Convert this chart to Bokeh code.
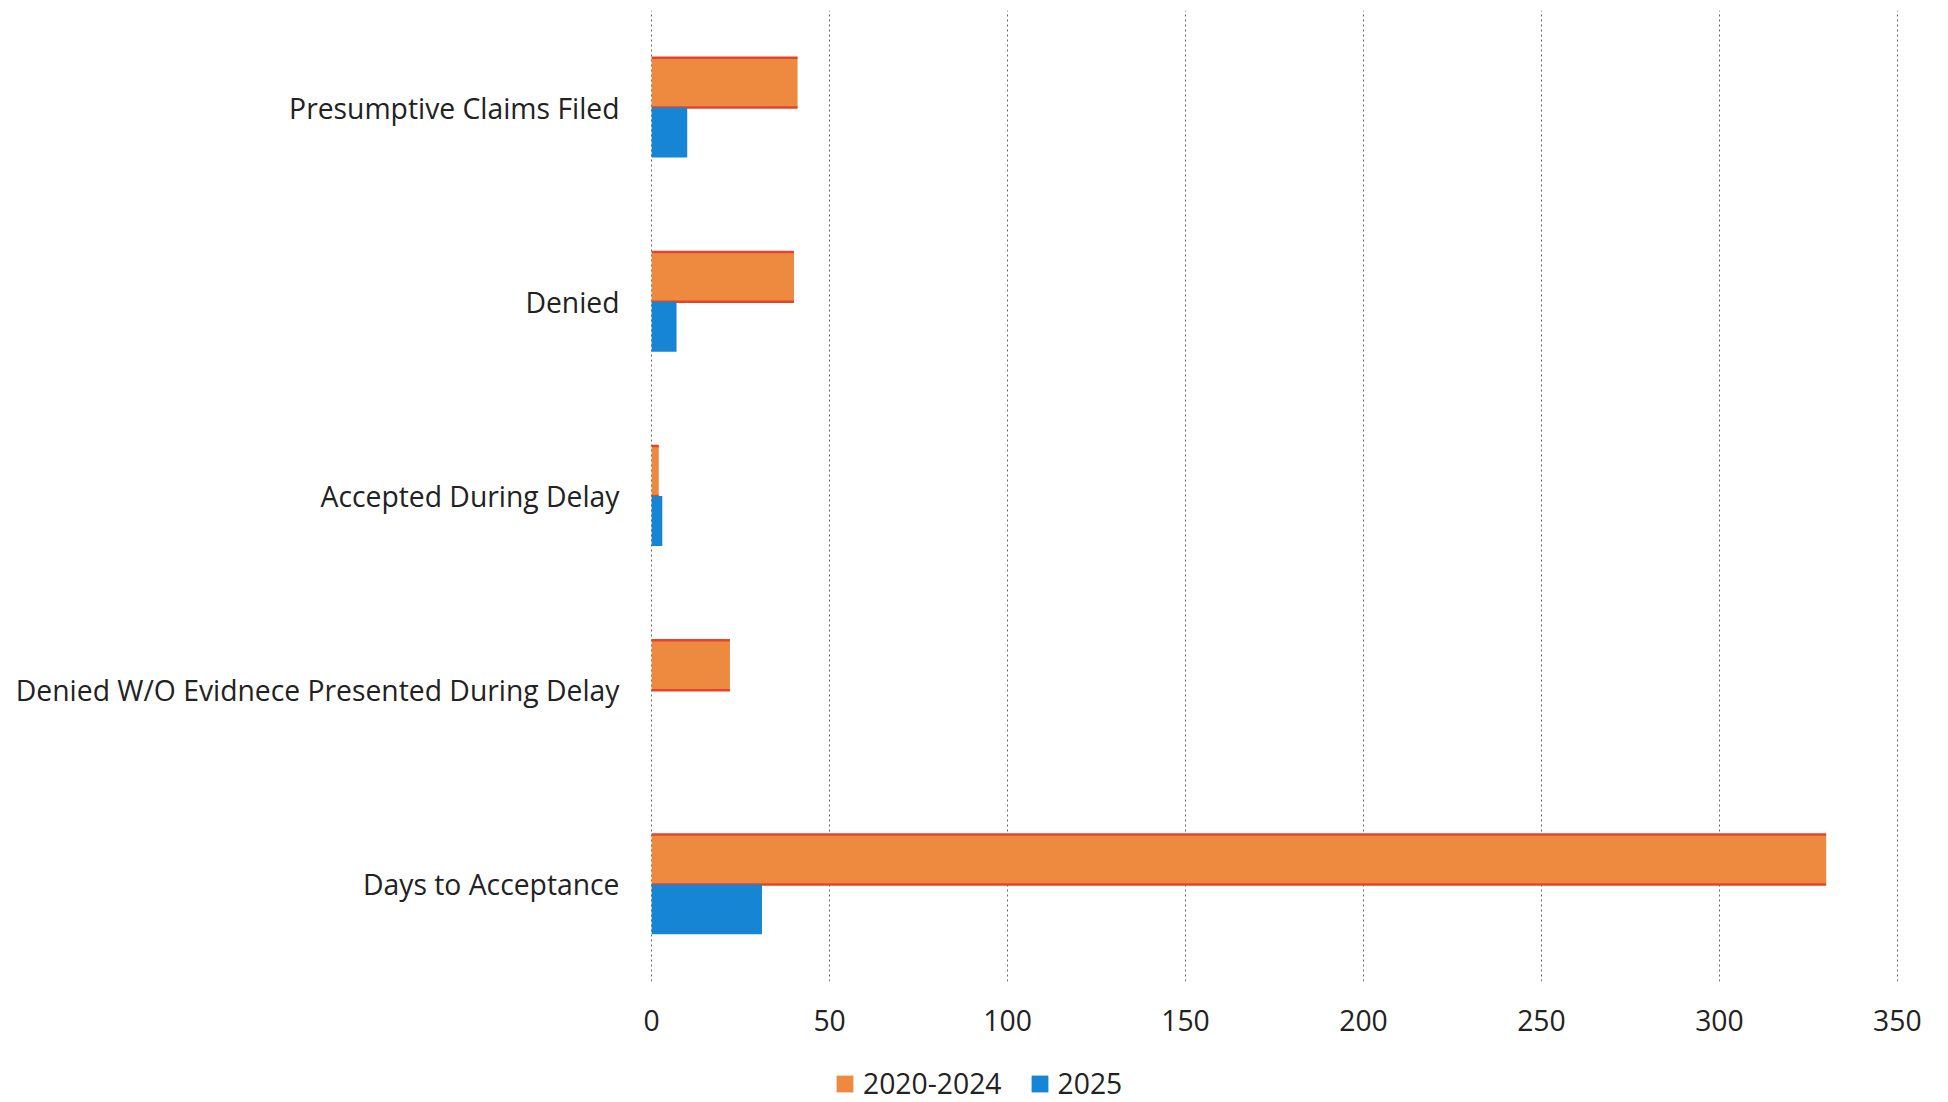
from bokeh.plotting import figure
from bokeh.layouts import column
from bokeh.models import ColumnDataSource, FactorRange, Range1d, Legend, LegendItem, FixedTicker
from bokeh.transform import dodge
from bokeh.embed import file_html
from bokeh.resources import INLINE

# Claim outcomes, listed top to bottom
categories = [
    "Presumptive Claims Filed",
    "Denied",
    "Accepted During Delay",
    "Denied W/O Evidnece Presented During Delay",
    "Days to Acceptance",
]
values_2020_2024 = [41, 40, 2, 22, 330]
values_2025 = [10, 7, 3, 0, 31]
series_labels = ["2020-2024", "2025"]
x_ticks = [0, 50, 100, 150, 200, 250, 300, 350]

ORANGE = "#EE8A40"
ORANGE_EDGE = "#E6432B"
BLUE = "#1685D3"
TEXT = "#222222"
FONT = "Open Sans"
FONT_SIZE = "28.3px"

W = 1948
MAIN_H = 1050
KEY_H = 52

source = ColumnDataSource(data=dict(
    cat=categories,
    v2020=values_2020_2024,
    v2025=values_2025,
))

p = figure(
    width=W, height=MAIN_H,
    y_range=FactorRange(factors=list(reversed(categories)), range_padding=0),
    x_range=Range1d(-0.6, 350.6),
    output_backend="svg", toolbar_location=None,
    min_border_left=649, min_border_right=49,
    min_border_top=10, min_border_bottom=MAIN_H - 981,
)
p.outline_line_color = None
p.background_fill_color = "white"
p.border_fill_color = "white"

bar_h = 0.257
off = bar_h / 2

p.hbar(y=dodge("cat", off, range=p.y_range), left=0, right="v2020",
       height=bar_h, source=source, fill_color=ORANGE, line_color=None)
# red rules along the long edges of the older-period bars
for edge in (off - bar_h / 2, off + bar_h / 2):
    p.segment(x0=0, x1="v2020",
              y0=dodge("cat", edge, range=p.y_range),
              y1=dodge("cat", edge, range=p.y_range),
              source=source, line_color=ORANGE_EDGE, line_width=2.5)
p.hbar(y=dodge("cat", -off, range=p.y_range), left=0, right="v2025",
       height=bar_h, source=source, fill_color=BLUE, line_color=None)

# axes
p.xaxis.ticker = FixedTicker(ticks=x_ticks)
for ax in (p.xaxis, p.yaxis):
    ax.axis_line_color = None
    ax.major_tick_line_color = None
    ax.minor_tick_line_color = None
    ax.major_tick_out = 0
    ax.major_tick_in = 0
    ax.major_label_text_font = FONT
    ax.major_label_text_font_size = FONT_SIZE
    ax.major_label_text_color = TEXT
p.yaxis.major_label_standoff = 30
p.xaxis.major_label_standoff = 28

p.ygrid.grid_line_color = None
p.xgrid.ticker = FixedTicker(ticks=x_ticks)
p.xgrid.grid_line_color = "#555555"
p.xgrid.grid_line_dash = "2 3"
p.xgrid.grid_line_width = 1
p.xgrid.grid_line_alpha = 0.9

# series key strip under the chart; its frame lines up with the chart's
key = figure(
    width=W, height=KEY_H,
    x_range=Range1d(0, 1), y_range=Range1d(0, 1),
    output_backend="svg", toolbar_location=None,
    x_axis_location=None, y_axis_location=None,
    min_border_left=649, min_border_right=49,
    min_border_top=0, min_border_bottom=0,
)
key.outline_line_color = None
key.grid.visible = False
key.background_fill_color = "white"
key.border_fill_color = "white"

# zero-size bars that only lend their colours to the key swatches
swatch_old = key.hbar(y=[0], left=[0], right=[0], height=0, fill_color=ORANGE, line_color=None)
swatch_new = key.hbar(y=[0], left=[0], right=[0], height=0, fill_color=BLUE, line_color=None)

legend = Legend(
    items=[LegendItem(label=series_labels[0], renderers=[swatch_old]),
           LegendItem(label=series_labels[1], renderers=[swatch_new])],
    orientation="horizontal",
    location=(185, 0),
    glyph_width=21, glyph_height=21,
    label_text_font=FONT, label_text_font_size=FONT_SIZE, label_text_color=TEXT,
    label_standoff=8, spacing=27, padding=0, margin=0,
    border_line_color=None, background_fill_alpha=0,
)
key.add_layout(legend)

layout = column(p, key, spacing=0)
open("out.html", "w").write(file_html(layout, INLINE))
